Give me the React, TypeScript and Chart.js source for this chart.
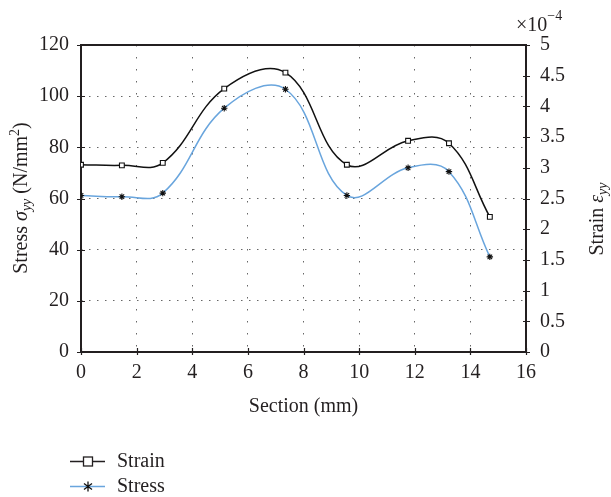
import React, { useEffect, useRef } from 'react';
import { Chart, registerables } from 'chart.js';

Chart.register(...registerables);

// ---- data ----
const sectionMm = [0, 1.47, 2.94, 5.15, 7.35, 9.56, 11.76, 13.23, 14.7];
const strainE4 = [3.05, 3.04, 3.08, 4.29, 4.55, 3.05, 3.44, 3.4, 2.2];
const stressNmm2 = [61.2, 60.7, 62.1, 95.3, 102.7, 61.2, 72.0, 70.5, 37.2];
const xTickValues = [0, 2, 4, 6, 8, 10, 12, 14, 16];
const stressTickValues = [0, 20, 40, 60, 80, 100, 120];
const strainTickValues = [0, 0.5, 1, 1.5, 2, 2.5, 3, 3.5, 4, 4.5, 5];

const FONT_FAMILY = '"Liberation Serif", "Times New Roman", serif';
const TEXT = '#231f20';
const BLUE = '#69a5dd';

function drawRich(ctx: CanvasRenderingContext2D, parts: { t: string; size: number; italic?: boolean; dy?: number }[], align: 'center' | 'left') {
  const widths = parts.map((p) => {
    ctx.font = `${p.italic ? 'italic ' : ''}${p.size}px ${FONT_FAMILY}`;
    return ctx.measureText(p.t).width;
  });
  const total = widths.reduce((a, b) => a + b, 0);
  let x = align === 'center' ? -total / 2 : 0;
  parts.forEach((p, i) => {
    ctx.font = `${p.italic ? 'italic ' : ''}${p.size}px ${FONT_FAMILY}`;
    ctx.fillText(p.t, x, p.dy || 0);
    x += widths[i];
  });
}

const decorPlugin = {
  id: 'decor',
  beforeDatasetsDraw(chart: any) {
    const { ctx, chartArea } = chart;
    const { left, right, top, bottom } = chartArea;
    const xs = chart.scales.x;
    const ys = chart.scales.y;
    const y2 = chart.scales.y2;
    ctx.save();
    ctx.strokeStyle = TEXT;
    ctx.lineWidth = 2;
    ctx.setLineDash([]);
    ctx.strokeRect(left, top, right - left, bottom - top);
    ctx.lineWidth = 1.2;
    ctx.beginPath();
    xTickValues.forEach((v) => {
      const px = Math.round(xs.getPixelForValue(v)) + 0.5;
      ctx.moveTo(px, bottom - 4);
      ctx.lineTo(px, bottom + 3);
    });
    stressTickValues.forEach((v) => {
      const py = Math.round(ys.getPixelForValue(v)) + 0.5;
      ctx.moveTo(left - 4, py);
      ctx.lineTo(left + 4, py);
    });
    strainTickValues.forEach((v) => {
      const py = Math.round(y2.getPixelForValue(v)) + 0.5;
      ctx.moveTo(right - 3, py);
      ctx.lineTo(right + 4, py);
    });
    ctx.stroke();
    ctx.restore();
  },
  afterDraw(chart: any) {
    const { ctx, chartArea } = chart;
    const { left, right } = chartArea;
    ctx.save();
    ctx.fillStyle = TEXT;
    ctx.textBaseline = 'alphabetic';

    // x title
    ctx.save();
    ctx.translate((left + right) / 2, 412);
    drawRich(ctx, [{ t: 'Section (mm)', size: 20 }], 'center');
    ctx.restore();

    // left title
    ctx.save();
    ctx.translate(27, 198);
    ctx.rotate(-Math.PI / 2);
    drawRich(
      ctx,
      [
        { t: 'Stress ', size: 20 },
        { t: 'σ', size: 20, italic: true },
        { t: 'yy', size: 14, italic: true, dy: 4 },
        { t: ' (N/mm', size: 20 },
        { t: '2', size: 14, dy: -8 },
        { t: ')', size: 20 },
      ],
      'center'
    );
    ctx.restore();

    // right title
    ctx.save();
    ctx.translate(603, 219);
    ctx.rotate(-Math.PI / 2);
    drawRich(
      ctx,
      [
        { t: 'Strain ', size: 20 },
        { t: 'ε', size: 20, italic: true },
        { t: 'yy', size: 14, italic: true, dy: 4 },
      ],
      'center'
    );
    ctx.restore();

    // exponent
    ctx.save();
    ctx.translate(right - 10, 31);
    drawRich(
      ctx,
      [
        { t: '×10', size: 20 },
        { t: '−4', size: 14, dy: -11 },
      ],
      'left'
    );
    ctx.restore();

    // legend
    ctx.lineWidth = 1.3;
    ctx.strokeStyle = TEXT;
    ctx.beginPath();
    ctx.moveTo(70, 461.5);
    ctx.lineTo(105, 461.5);
    ctx.stroke();
    ctx.fillStyle = '#fff';
    ctx.fillRect(83.5, 457, 9, 9);
    ctx.strokeRect(83.5, 457, 9, 9);

    ctx.strokeStyle = BLUE;
    ctx.beginPath();
    ctx.moveTo(70, 486.5);
    ctx.lineTo(105, 486.5);
    ctx.stroke();
    ctx.strokeStyle = '#111';
    ctx.lineWidth = 1.3;
    ctx.beginPath();
    const cx = 88, cy = 486.5, r = 5;
    ctx.moveTo(cx, cy - r);
    ctx.lineTo(cx, cy + r);
    ctx.moveTo(cx - 4, cy - 3);
    ctx.lineTo(cx + 4, cy + 3);
    ctx.moveTo(cx - 4, cy + 3);
    ctx.lineTo(cx + 4, cy - 3);
    ctx.stroke();

    ctx.fillStyle = TEXT;
    ctx.font = `20px ${FONT_FAMILY}`;
    ctx.textAlign = 'left';
    ctx.fillText('Strain', 117, 467);
    ctx.fillText('Stress', 117, 492);
    ctx.restore();
  },
};

export default function App() {
  const canvasRef = useRef<HTMLCanvasElement | null>(null);

  useEffect(() => {
    document.body.style.margin = '0';
    const canvas = canvasRef.current;
    if (!canvas) return;
    const tickFont = { family: FONT_FAMILY, size: 20 };
    const plain = (v: any) => String(Number(v));
    const chart = new Chart(canvas, {
      type: 'line',
      data: {
        datasets: [
          {
            label: 'Strain',
            yAxisID: 'y2',
            data: sectionMm.map((x, i) => ({ x, y: strainE4[i] })),
            borderColor: '#111',
            borderWidth: 1.5,
            tension: 0.4,
            pointStyle: 'rect',
            pointRadius: 3.4,
            pointBackgroundColor: '#fff',
            pointBorderColor: '#111',
            pointBorderWidth: 1.1,
          },
          {
            label: 'Stress',
            yAxisID: 'y',
            data: sectionMm.map((x, i) => ({ x, y: stressNmm2[i] })),
            borderColor: BLUE,
            borderWidth: 1.5,
            tension: 0.4,
            pointStyle: 'star',
            pointRadius: 3.2,
            pointBackgroundColor: '#111',
            pointBorderColor: '#111',
            pointBorderWidth: 1.1,
          },
        ],
      },
      options: {
        animation: false,
        responsive: false,
        maintainAspectRatio: false,
        layout: { padding: { top: 45, left: 0, right: 0, bottom: 0 } },
        plugins: { legend: { display: false }, tooltip: { enabled: false } },
        scales: {
          x: {
            type: 'linear',
            min: 0,
            max: 16,
            afterBuildTicks: (s: any) => {
              s.ticks = xTickValues.map((v) => ({ value: v }));
            },
            ticks: { font: tickFont, color: TEXT, padding: 9, maxRotation: 0, autoSkip: false, callback: plain },
            grid: { drawTicks: false, color: '#666', lineWidth: 1 },
            border: { display: false, dash: [1.5, 10.5] },
            afterFit: (s: any) => {
              s.height = 145;
            },
          },
          y: {
            position: 'left',
            min: 0,
            max: 120,
            afterBuildTicks: (s: any) => {
              s.ticks = stressTickValues.map((v) => ({ value: v }));
            },
            ticks: { font: tickFont, color: TEXT, padding: 12, callback: plain },
            grid: { drawTicks: false, color: '#666', lineWidth: 1 },
            border: { display: false, dash: [1.5, 6.5] },
            afterFit: (s: any) => {
              s.width = 81;
            },
          },
          y2: {
            position: 'right',
            min: 0,
            max: 5,
            afterBuildTicks: (s: any) => {
              s.ticks = strainTickValues.map((v) => ({ value: v }));
            },
            ticks: { font: tickFont, color: TEXT, padding: 14, callback: plain },
            grid: { display: false, drawTicks: false },
            border: { display: false },
            afterFit: (s: any) => {
              s.width = 85;
            },
          },
        },
      },
      plugins: [decorPlugin],
    });
    return () => chart.destroy();
  }, []);

  return (
    <div style={{ width: 611, height: 497 }}>
      <canvas ref={canvasRef} width={611} height={497} style={{ display: 'block', width: 611, height: 497 }} />
    </div>
  );
}
